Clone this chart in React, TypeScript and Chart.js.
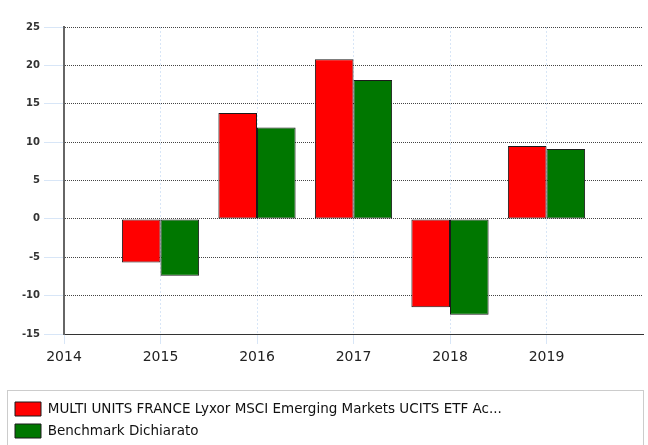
import React, { useEffect, useRef } from "react";
import { Chart, registerables } from "chart.js";

Chart.register(...registerables);

const years = [2015, 2016, 2017, 2018, 2019];
const fundValues = [-5.7, 13.8, 20.8, -11.5, 9.5];
const benchmarkValues = [-7.4, 11.9, 18.1, -12.5, 9.1];
const fundLabel = "MULTI UNITS FRANCE Lyxor MSCI Emerging Markets UCITS ETF Ac...";
const benchmarkLabel = "Benchmark Dichiarato";
const xMin = 2014;
const xMax = 2020;
const yMin = -15;
const yMax = 25;
const yStep = 5;

const legendBorder = {
  id: "legendBorder",
  afterDraw(chart: any) {
    const ctx = chart.ctx;
    ctx.save();
    ctx.strokeStyle = "#cccccc";
    ctx.lineWidth = 1;
    ctx.strokeRect(7.5, 390.5, 636, 70);
    ctx.restore();
  },
};

const xGridColor = (c: any) =>
  c.tick && c.tick.value >= xMax ? "rgba(0,0,0,0)" : "#d8e6f7";

export default function App() {
  const ref = useRef<HTMLCanvasElement>(null);
  useEffect(() => {
    if (!ref.current) return;
    const chart = new Chart(ref.current, {
      type: "bar",
      data: {
        datasets: [
          {
            label: fundLabel,
            data: years.map((x, i) => ({ x, y: fundValues[i] })),
            backgroundColor: "#ff0000",
            borderColor: "#1a1a1a",
            borderWidth: 1,
            borderSkipped: false,
          },
          {
            label: benchmarkLabel,
            data: years.map((x, i) => ({ x, y: benchmarkValues[i] })),
            backgroundColor: "#007700",
            borderColor: "#1a1a1a",
            borderWidth: 1,
            borderSkipped: false,
          },
        ],
      },
      options: {
        animation: false,
        responsive: false,
        layout: { padding: { left: 7, right: 3, top: 27, bottom: -3 } },
        datasets: { bar: { categoryPercentage: 0.8, barPercentage: 1.0 } } as any,
        plugins: {
          tooltip: { enabled: false },
          title: { display: false },
          legend: {
            position: "bottom",
            align: "start",
            labels: {
              boxWidth: 26,
              boxHeight: 14,
              padding: 8,
              color: "#111111",
              font: { family: "DejaVu Sans", size: 13.5 },
            },
          },
        },
        scales: {
          x: {
            type: "linear",
            min: xMin,
            max: xMax,
            offset: false,
            afterFit: (s: any) => {
              s.height = 60;
            },
            grid: {
              offset: false,
              color: xGridColor,
              tickColor: xGridColor,
              tickLength: 10,
              drawOnChartArea: true,
            } as any,
            border: { display: true, color: "#333333", width: 1, dash: [2, 2] } as any,
            ticks: {
              stepSize: 1,
              padding: 5,
              color: "#222222",
              font: { family: "DejaVu Sans", size: 14 },
              callback: (v: any) => (Number(v) >= xMin && Number(v) < xMax ? String(v) : ""),
            },
          },
          y: {
            min: yMin,
            max: yMax,
            afterFit: (s: any) => {
              s.width = 57;
            },
            grid: {
              color: "#444444",
              tickColor: "#d8e6f7",
              tickLength: 20,
              tickBorderDash: [],
            } as any,
            border: { display: true, color: "#666666", width: 2, dash: [1, 1] } as any,
            ticks: {
              stepSize: yStep,
              padding: 4,
              color: "#333333",
              font: { family: "DejaVu Sans", size: 10, weight: "bold" },
            },
          },
        },
      },
      plugins: [legendBorder],
    });
    return () => chart.destroy();
  }, []);
  return (
    <div style={{ position: "absolute", left: 0, top: 0, width: 648, height: 445 }}>
      <canvas ref={ref} width={648} height={445} />
    </div>
  );
}
